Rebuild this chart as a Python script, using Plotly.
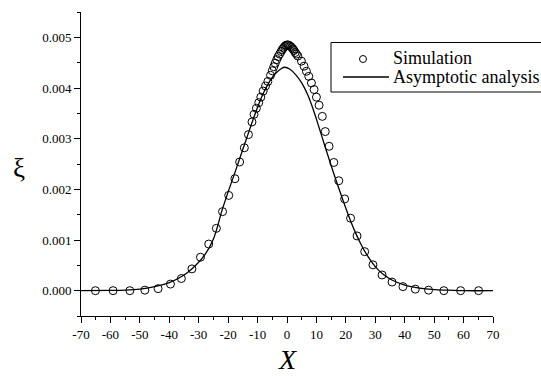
import plotly.graph_objects as go

# Simulation points
sim_x = [-65.1, -59.1, -53.4, -48.3, -43.8, -39.6, -35.9, -32.3, -29.4, -26.6, -24.0, -21.9,
         -19.8, -17.7, -16.1, -14.5, -13.1, -11.9, -11.2, -10.4, -9.6, -8.9, -8.1, -7.3,
         -6.5, -5.6, -5.0, -4.5, -4.0, -3.5, -3.0, -2.5, -2.0, -1.6, -1.2, -0.8, -0.4, 0.0,
         0.4, 0.8, 1.2, 1.6, 2.0, 2.4, 2.8, 3.2, 3.7, 4.9, 5.8, 6.6, 7.4, 8.3, 9.2, 10.0,
         10.9, 12.0, 13.0, 14.3, 15.9, 17.6, 19.6, 21.6, 23.8, 26.4, 29.2, 32.3, 35.7,
         39.4, 43.6, 48.1, 53.3, 59.0, 65.1]
sim_y = [0.0, 0.0, 0.0, 0.00001, 0.00004, 0.00013, 0.00024, 0.00043, 0.00066, 0.00092,
         0.00123, 0.00156, 0.00188, 0.00221, 0.00254, 0.00282, 0.00308, 0.00333, 0.00348,
         0.00360, 0.00371, 0.00382, 0.00394, 0.00404, 0.00413, 0.00425, 0.00434, 0.00442,
         0.00449, 0.00456, 0.00462, 0.00467, 0.00472, 0.00476, 0.00479, 0.00482, 0.00484,
         0.00485, 0.00485, 0.00484, 0.00482, 0.00480, 0.00477, 0.00474, 0.00470, 0.00467,
         0.00463, 0.00453, 0.00443, 0.00433, 0.00423, 0.00410, 0.00397, 0.00382, 0.00366,
         0.00344, 0.00314, 0.00285, 0.00253, 0.00217, 0.00181, 0.00143, 0.00108, 0.00077,
         0.00051, 0.00031, 0.00017, 0.00008, 0.00003, 0.00001, 0.0, 0.0, 0.0]

# Asymptotic analysis curve
asy_x = [-70, -60, -55, -50, -45, -40, -37, -34, -31, -28, -25, -22, -20, -18, -16, -14, -12,
         -10, -8, -6, -4, -2, -0.8, 1, 3, 5, 7, 9, 11, 13, 15, 17, 19, 21, 23, 25, 27, 29,
         31, 33, 36, 40, 45, 50, 55, 60, 70]
asy_y = [0.0, 0.000005, 0.00001, 0.00003, 0.00008, 0.00016, 0.00024, 0.00035, 0.00050,
         0.00070, 0.00102, 0.00160, 0.00195, 0.00228, 0.00262, 0.00296, 0.00330, 0.00362,
         0.00390, 0.00412, 0.00428, 0.00438, 0.00441, 0.00437, 0.00426, 0.00410, 0.00387,
         0.00356, 0.00320, 0.00283, 0.00247, 0.00212, 0.00179, 0.00147, 0.00118, 0.00093,
         0.00072, 0.00055, 0.00041, 0.00031, 0.00020, 0.00011, 0.00005, 0.00002, 0.00001,
         0.0, 0.0]

series_names = ["Simulation", "Asymptotic analysis"]
x_ticks = [-70, -60, -50, -40, -30, -20, -10, 0, 10, 20, 30, 40, 50, 60, 70]
y_ticks = [0.000, 0.001, 0.002, 0.003, 0.004, 0.005]
x_title = "X"
y_title = "ξ"

FONT = "Liberation Serif"
W, H = 541, 376
ML, MR, MT, MB = 81, 48, 12, 60
PW, PH = W - ML - MR, H - MT - MB


def px(xp):
    return (xp - ML) / PW


def py(yp):
    return 1 - (yp - MT) / PH


fig = go.Figure()
fig.add_trace(go.Scatter(
    x=sim_x, y=sim_y, mode="markers", name=series_names[0], showlegend=False,
    marker=dict(symbol="circle-open", size=8, color="black", line=dict(width=1, color="black")),
))
fig.add_trace(go.Scatter(
    x=asy_x, y=asy_y, mode="lines", name=series_names[1], showlegend=False,
    line=dict(color="black", width=1.3, shape="spline"),
))

shapes = [
    # legend frame
    dict(type="rect", xref="paper", yref="paper", x0=px(331), x1=px(580), y0=py(92), y1=py(42.5),
         line=dict(color="black", width=1), fillcolor="white", layer="above"),
    # legend circle marker
    dict(type="circle", xref="paper", yref="paper", xsizemode="pixel", ysizemode="pixel",
         xanchor=px(363), yanchor=py(59), x0=-3.5, x1=3.5, y0=-3.5, y1=3.5,
         line=dict(color="black", width=1), layer="above"),
    # legend line sample
    dict(type="line", xref="paper", yref="paper", x0=px(343), x1=px(389), y0=py(77), y1=py(77),
         line=dict(color="black", width=1.3), layer="above"),
]

annotations = [
    dict(text=series_names[0], xref="paper", yref="paper", x=px(391), y=py(58),
         xanchor="left", yanchor="middle", showarrow=False,
         font=dict(family=FONT, size=18, color="black")),
    dict(text=series_names[1], xref="paper", yref="paper", x=px(391), y=py(77),
         xanchor="left", yanchor="middle", showarrow=False,
         font=dict(family=FONT, size=18, color="black")),
    dict(text="<i>%s</i>" % x_title, xref="paper", yref="paper", x=px(287), y=py(359),
         xanchor="center", yanchor="middle", showarrow=False,
         font=dict(family=FONT, size=28, color="black")),
    dict(text=y_title, xref="paper", yref="paper", x=px(19), y=py(168),
         xanchor="center", yanchor="middle", showarrow=False,
         font=dict(family=FONT, size=27, color="black")),
]

fig.update_layout(
    width=W, height=H,
    margin=dict(l=ML, r=MR, t=MT, b=MB, autoexpand=False),
    paper_bgcolor="white", plot_bgcolor="white",
    font=dict(family=FONT, size=13, color="black"),
    showlegend=False,
    xaxis=dict(
        range=[-70, 70], tickvals=x_ticks, ticktext=[str(v) for v in x_ticks],
        showline=True, linecolor="black", linewidth=1, mirror=False,
        ticks="outside", ticklen=6, tickwidth=1, tickcolor="black",
        minor=dict(dtick=5, tick0=0, ticks="outside", ticklen=3, tickwidth=1, tickcolor="black"),
        showgrid=False, zeroline=False,
        tickfont=dict(family=FONT, size=13, color="black"),
    ),
    yaxis=dict(
        range=[-0.0005, 0.0055], tickvals=y_ticks, ticktext=["%.3f" % v for v in y_ticks],
        showline=True, linecolor="black", linewidth=1, mirror=False,
        ticks="outside", ticklen=6, tickwidth=1, tickcolor="black",
        minor=dict(dtick=0.0005, tick0=0, ticks="outside", ticklen=3, tickwidth=1, tickcolor="black"),
        showgrid=False, zeroline=False,
        tickfont=dict(family=FONT, size=13, color="black"),
    ),
    shapes=shapes,
    annotations=annotations,
)

fig.write_html("out.html")
